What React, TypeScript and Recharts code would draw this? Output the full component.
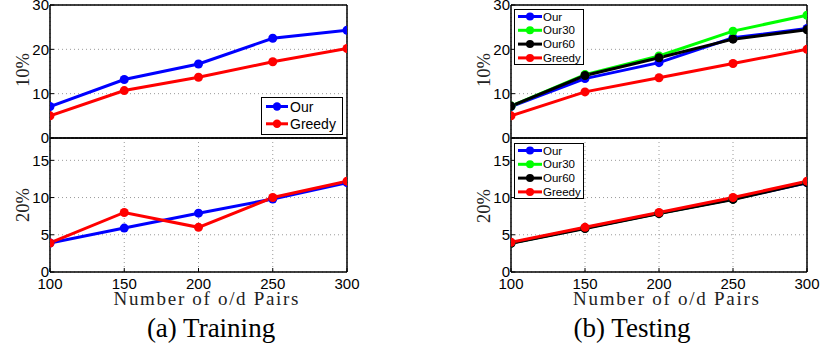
import React from 'react';
import { LineChart, Line, XAxis, YAxis, CartesianGrid } from 'recharts';

// ---------- data ----------
const categories = [100, 150, 200, 250, 300];
const xTicks = [100, 150, 200, 250, 300];
const upperTicks = [0, 10, 20, 30];
const lowerTicks = [0, 5, 10, 15];
const upperDomain: [number, number] = [0, 30];
const lowerDomain: [number, number] = [0, 18];

const trainUpperOur = [7.1, 13.2, 16.7, 22.5, 24.3];
const trainUpperGreedy = [5.0, 10.7, 13.7, 17.2, 20.2];
const trainLowerOur = [3.9, 5.9, 7.9, 9.8, 12.0];
const trainLowerGreedy = [3.9, 8.0, 6.0, 10.0, 12.2];

const testUpperOur = [7.1, 13.4, 17.0, 22.6, 24.7];
const testUpperOur30 = [7.2, 14.3, 18.5, 24.1, 27.7];
const testUpperOur60 = [7.2, 14.1, 18.1, 22.3, 24.4];
const testUpperGreedy = [5.0, 10.4, 13.6, 16.8, 20.0];
const testLowerOur = [3.9, 5.9, 7.9, 9.8, 12.0];
const testLowerOur30 = [3.9, 5.9, 7.9, 9.8, 12.1];
const testLowerOur60 = [3.85, 5.85, 7.85, 9.75, 12.0];
const testLowerGreedy = [4.0, 6.0, 8.0, 10.0, 12.2];

const upperLabel = '10%';
const lowerLabel = '20%';
const xLabel = 'Number of o/d Pairs';
const captionA = '(a) Training';
const captionB = '(b) Testing';

type Series = { key: string; name: string; color: string; values: number[] };

const trainUpper: Series[] = [
  { key: 'our', name: 'Our', color: '#0000ff', values: trainUpperOur },
  { key: 'greedy', name: 'Greedy', color: '#ff0000', values: trainUpperGreedy },
];
const trainLower: Series[] = [
  { key: 'our', name: 'Our', color: '#0000ff', values: trainLowerOur },
  { key: 'greedy', name: 'Greedy', color: '#ff0000', values: trainLowerGreedy },
];
const testUpper: Series[] = [
  { key: 'our', name: 'Our', color: '#0000ff', values: testUpperOur },
  { key: 'our30', name: 'Our30', color: '#00ff00', values: testUpperOur30 },
  { key: 'our60', name: 'Our60', color: '#000000', values: testUpperOur60 },
  { key: 'greedy', name: 'Greedy', color: '#ff0000', values: testUpperGreedy },
];
const testLower: Series[] = [
  { key: 'our', name: 'Our', color: '#0000ff', values: testLowerOur },
  { key: 'our30', name: 'Our30', color: '#00ff00', values: testLowerOur30 },
  { key: 'our60', name: 'Our60', color: '#000000', values: testLowerOur60 },
  { key: 'greedy', name: 'Greedy', color: '#ff0000', values: testLowerGreedy },
];

const buildRows = (series: Series[]) =>
  categories.map((x, i) => {
    const row: Record<string, number> = { x };
    series.forEach((s) => (row[s.key] = s.values[i]));
    return row;
  });

// ---------- components ----------
const SANS = 'Liberation Sans';
const SERIF = 'Liberation Serif';
const tickStyle = { fontSize: 15, fill: '#000', fontFamily: SANS };
const axisStroke = { stroke: '#000', strokeWidth: 1.5 };

type SubPlotProps = {
  left: number;
  top: number;
  width: number;
  height: number;
  margin: { top: number; right: number; bottom: number; left: number };
  domain: [number, number];
  ticks: number[];
  series: Series[];
  showXLabels: boolean;
};

function SubPlot({ left, top, width, height, margin, domain, ticks, series, showXLabels }: SubPlotProps) {
  const data = buildRows(series);
  return (
    <div style={{ position: 'absolute', left, top }}>
      <LineChart width={width} height={height} data={data} margin={margin}>
        <CartesianGrid stroke="#9a9a9a" strokeDasharray="1 3" strokeWidth={1} />
        {series.map((s) => (
          <Line
            key={s.key}
            type="linear"
            dataKey={s.key}
            name={s.name}
            stroke={s.color}
            strokeWidth={3}
            dot={{ r: 4.5, fill: s.color, stroke: s.color, strokeWidth: 0 }}
            activeDot={false}
            isAnimationActive={false}
          />
        ))}
        <XAxis
          dataKey="x"
          type="number"
          domain={[100, 300]}
          ticks={xTicks}
          interval={0}
          height={1}
          tickSize={-4}
          tickMargin={10}
          axisLine={axisStroke}
          tickLine={{ stroke: '#000' }}
          tick={showXLabels ? tickStyle : false}
          allowDataOverflow
        />
        <XAxis
          xAxisId="top"
          orientation="top"
          dataKey="x"
          type="number"
          domain={[100, 300]}
          ticks={xTicks}
          interval={0}
          height={1}
          tickSize={-4}
          axisLine={axisStroke}
          tickLine={{ stroke: '#000' }}
          tick={false}
        />
        <YAxis
          type="number"
          domain={domain}
          ticks={ticks}
          interval={0}
          width={50}
          tickSize={-4}
          tickMargin={5}
          axisLine={axisStroke}
          tickLine={{ stroke: '#000' }}
          tick={tickStyle}
          allowDataOverflow
        />
        <YAxis
          yAxisId="right"
          orientation="right"
          type="number"
          domain={domain}
          ticks={ticks}
          interval={0}
          width={1}
          tickSize={-4}
          axisLine={axisStroke}
          tickLine={{ stroke: '#000' }}
          tick={false}
        />
      </LineChart>
    </div>
  );
}

type LegendProps = {
  series: Series[];
  left: number;
  top: number;
  width: number;
  height: number;
  firstRow: number;
  rowH: number;
  fontSize: number;
  lineX0: number;
  lineX1: number;
  textX: number;
  r: number;
};

function LegendBox({ series, left, top, width, height, firstRow, rowH, fontSize, lineX0, lineX1, textX, r }: LegendProps) {
  return (
    <div
      style={{
        position: 'absolute',
        left,
        top,
        width,
        height,
        boxSizing: 'border-box',
        border: '1.3px solid #000',
        background: '#fff',
      }}
    >
      <svg width={width} height={height} style={{ position: 'absolute', left: -1, top: -1 }}>
        {series.map((s, i) => {
          const cy = firstRow + i * rowH;
          const mx = (lineX0 + lineX1) / 2;
          return (
            <g key={s.key}>
              <line x1={lineX0} x2={lineX1} y1={cy} y2={cy} stroke={s.color} strokeWidth={3} />
              <circle cx={mx} cy={cy} r={r} fill={s.color} />
              <text x={textX} y={cy} dy="0.36em" fontSize={fontSize} fontFamily={SANS} fill="#000">
                {s.name}
              </text>
            </g>
          );
        })}
      </svg>
    </div>
  );
}

export default function App() {
  // upper subplot: plot area y 5..138 ; lower subplot: plot area y 138..272
  const upperGeom = { top: -10, height: 160, margin: { top: 14, right: 52, bottom: 11, left: 0 } };
  const lowerGeom = { top: 130, height: 180, margin: { top: 7, right: 52, bottom: 37, left: 0 } };
  const rightUpperMargin = { ...upperGeom.margin, right: 53 };
  const rightLowerMargin = { ...lowerGeom.margin, right: 53 };

  return (
    <div
      style={{
        position: 'absolute',
        left: 0,
        top: 0,
        width: 820,
        height: 353,
        overflow: 'hidden',
        background: '#fff',
      }}
    >
      <svg width={820} height={353} style={{ position: 'absolute', left: 0, top: 0 }}>
        <g fontFamily={SERIF} fill="#222">
          <text x={29} y={70} fontSize={19} textAnchor="middle" transform="rotate(-90 29 70)" textLength={34} lengthAdjust="spacingAndGlyphs">{upperLabel}</text>
          <text x={29} y={205} fontSize={19} textAnchor="middle" transform="rotate(-90 29 205)" textLength={34} lengthAdjust="spacingAndGlyphs">{lowerLabel}</text>
          <text x={490} y={70} fontSize={19} textAnchor="middle" transform="rotate(-90 490 70)" textLength={34} lengthAdjust="spacingAndGlyphs">{upperLabel}</text>
          <text x={490} y={206} fontSize={19} textAnchor="middle" transform="rotate(-90 490 206)" textLength={34} lengthAdjust="spacingAndGlyphs">{lowerLabel}</text>
          <text x={206} y={305} fontSize={19} textAnchor="middle" textLength={185} lengthAdjust="spacing">{xLabel}</text>
          <text x={666} y={305} fontSize={19} textAnchor="middle" textLength={186} lengthAdjust="spacing">{xLabel}</text>
        </g>
        <g fontFamily={SERIF} fill="#000" fontSize={27}>
          <text x={211} y={337} textAnchor="middle">{captionA}</text>
          <text x={632} y={337} textAnchor="middle">{captionB}</text>
        </g>
      </svg>

      {/* (a) Training */}
      <SubPlot left={0} top={upperGeom.top} width={400} height={upperGeom.height} margin={upperGeom.margin}
        domain={upperDomain} ticks={upperTicks} series={trainUpper} showXLabels={false} />
      <SubPlot left={0} top={lowerGeom.top} width={400} height={lowerGeom.height} margin={lowerGeom.margin}
        domain={lowerDomain} ticks={lowerTicks} series={trainLower} showXLabels={true} />
      <LegendBox series={trainUpper} left={261} top={97} width={82} height={38} firstRow={9.5} rowH={17.3}
        fontSize={14} lineX0={5} lineX1={27} textX={29} r={4.2} />

      {/* (b) Testing */}
      <SubPlot left={461} top={upperGeom.top} width={400} height={upperGeom.height} margin={rightUpperMargin}
        domain={upperDomain} ticks={upperTicks} series={testUpper} showXLabels={false} />
      <SubPlot left={461} top={lowerGeom.top} width={400} height={lowerGeom.height} margin={rightLowerMargin}
        domain={lowerDomain} ticks={lowerTicks} series={testLower} showXLabels={true} />
      <LegendBox series={testUpper} left={514} top={9} width={70} height={56} firstRow={7.5} rowH={13.8}
        fontSize={11.5} lineX0={4} lineX1={28} textX={29} r={4} />
      <LegendBox series={testLower} left={514} top={143} width={70} height={56} firstRow={7.5} rowH={13.8}
        fontSize={11.5} lineX0={4} lineX1={28} textX={29} r={4} />
    </div>
  );
}
